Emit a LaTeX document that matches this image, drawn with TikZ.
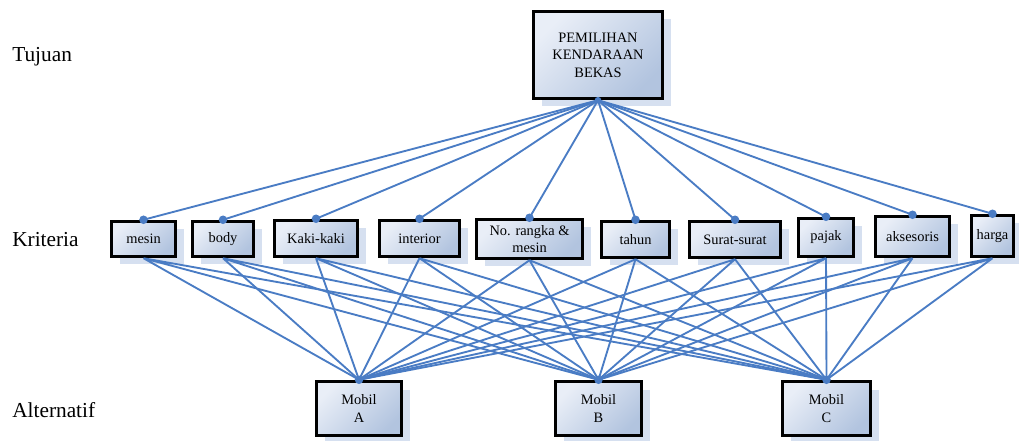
\documentclass[tikz,border=0pt]{standalone}
\usepackage{fontspec}
\setmainfont{Liberation Serif}
\usetikzlibrary{shadows}

\definecolor{garisbiru}{HTML}{4A7CC4}
\definecolor{isiatas}{HTML}{E9EEF7}
\definecolor{isibawah}{HTML}{B2C4DF}
\definecolor{bayang}{HTML}{D6E0F0}
\newdimen\pxl \pxl=0.75pt

\tikzstyle{kotak}=[rectangle, draw=black, line width=2.6pt, inner sep=0pt, align=center,
  top color=isiatas, bottom color=isibawah, shading angle=45,
  drop shadow={shadow xshift=6pt, shadow yshift=-6pt, fill=bayang, opacity=1},
  font=\fontsize{10.8}{13}\selectfont]
\tikzstyle{tingkat}=[anchor=base west, inner sep=0pt, font=\fontsize{16}{19}\selectfont]
\tikzstyle{garis}=[draw=garisbiru, line width=1.4pt]
\tikzstyle{titik}=[fill=garisbiru]

\begin{document}
\begin{tikzpicture}[x=0.75pt, y=-0.75pt]
	\useasboundingbox (0,0) rectangle (1019,441);

	\node[tingkat] (lvl1) at (12,62) {Tujuan};
	\node[tingkat] (lvl2) at (12,247) {Kriteria};
	\node[tingkat] (lvl3) at (12,417) {Alternatif};

	\node[kotak, minimum width=129\pxl, minimum height=87\pxl] (goal) at (598,55) {PEMILIHAN\\KENDARAAN\\BEKAS};

	\node[kotak, minimum width=64\pxl, minimum height=35\pxl] (crit1) at (143.5,239) {mesin};
	\node[kotak, minimum width=61\pxl, minimum height=35\pxl] (crit2) at (223,239) {body};
	\node[kotak, minimum width=83\pxl, minimum height=36\pxl] (crit3) at (316,238.5) {Kaki-kaki};
	\node[kotak, minimum width=80\pxl, minimum height=36\pxl] (crit4) at (419.5,238.5) {interior};
	\node[kotak, minimum width=106\pxl, minimum height=39\pxl] (crit5) at (529.5,239) {No. rangka \&\\mesin};
	\node[kotak, minimum width=68\pxl, minimum height=36\pxl] (crit6) at (635.5,239.5) {tahun};
	\node[kotak, minimum width=91\pxl, minimum height=36\pxl] (crit7) at (735,239.5) {Surat-surat};
	\node[kotak, minimum width=55\pxl, minimum height=38\pxl] (crit8) at (826,237.5) {pajak};
	\node[kotak, minimum width=74\pxl, minimum height=40\pxl] (crit9) at (912.5,236.5) {aksesoris};
	\node[kotak, minimum width=42\pxl, minimum height=41\pxl] (crit10) at (992.5,236) {harga};

	\node[kotak, minimum width=85\pxl, minimum height=54\pxl] (alt1) at (359,408.5) {Mobil\\A};
	\node[kotak, minimum width=86\pxl, minimum height=54\pxl] (alt2) at (598.5,408.5) {Mobil\\B};
	\node[kotak, minimum width=88\pxl, minimum height=54\pxl] (alt3) at (826.5,408.5) {Mobil\\C};

	% tujuan ke kriteria
	\draw[garis] (goal.south) -- (crit1.north);
	\draw[garis] (goal.south) -- (crit2.north);
	\draw[garis] (goal.south) -- (crit3.north);
	\draw[garis] (goal.south) -- (crit4.north);
	\draw[garis] (goal.south) -- (crit5.north);
	\draw[garis] (goal.south) -- (crit6.north);
	\draw[garis] (goal.south) -- (crit7.north);
	\draw[garis] (goal.south) -- (crit8.north);
	\draw[garis] (goal.south) -- (crit9.north);
	\draw[garis] (goal.south) -- (crit10.north);

	% kriteria ke alternatif
	\draw[garis] (crit1.south) -- (alt1.north) (crit1.south) -- (alt2.north) (crit1.south) -- (alt3.north);
	\draw[garis] (crit2.south) -- (alt1.north) (crit2.south) -- (alt2.north) (crit2.south) -- (alt3.north);
	\draw[garis] (crit3.south) -- (alt1.north) (crit3.south) -- (alt2.north) (crit3.south) -- (alt3.north);
	\draw[garis] (crit4.south) -- (alt1.north) (crit4.south) -- (alt2.north) (crit4.south) -- (alt3.north);
	\draw[garis] (crit5.south) -- (alt1.north) (crit5.south) -- (alt2.north) (crit5.south) -- (alt3.north);
	\draw[garis] (crit6.south) -- (alt1.north) (crit6.south) -- (alt2.north) (crit6.south) -- (alt3.north);
	\draw[garis] (crit7.south) -- (alt1.north) (crit7.south) -- (alt2.north) (crit7.south) -- (alt3.north);
	\draw[garis] (crit8.south) -- (alt1.north) (crit8.south) -- (alt2.north) (crit8.south) -- (alt3.north);
	\draw[garis] (crit9.south) -- (alt1.north) (crit9.south) -- (alt2.north) (crit9.south) -- (alt3.north);
	\draw[garis] (crit10.south) -- (alt1.north) (crit10.south) -- (alt2.north) (crit10.south) -- (alt3.north);

	% titik
	\fill[titik] (goal.south) circle[radius=2.5pt];
	\fill[titik] (crit1.north) circle[radius=3.2pt];
	\fill[titik] (crit2.north) circle[radius=3.2pt];
	\fill[titik] (crit3.north) circle[radius=3.2pt];
	\fill[titik] (crit4.north) circle[radius=3.2pt];
	\fill[titik] (crit5.north) circle[radius=3.2pt];
	\fill[titik] (crit6.north) circle[radius=3.2pt];
	\fill[titik] (crit7.north) circle[radius=3.2pt];
	\fill[titik] (crit8.north) circle[radius=3.2pt];
	\fill[titik] (crit9.north) circle[radius=3.2pt];
	\fill[titik] (crit10.north) circle[radius=3.2pt];
	\fill[titik] (alt1.north) circle[radius=3.2pt];
	\fill[titik] (alt2.north) circle[radius=3.2pt];
	\fill[titik] (alt3.north) circle[radius=3.2pt];
\end{tikzpicture}
\end{document}
